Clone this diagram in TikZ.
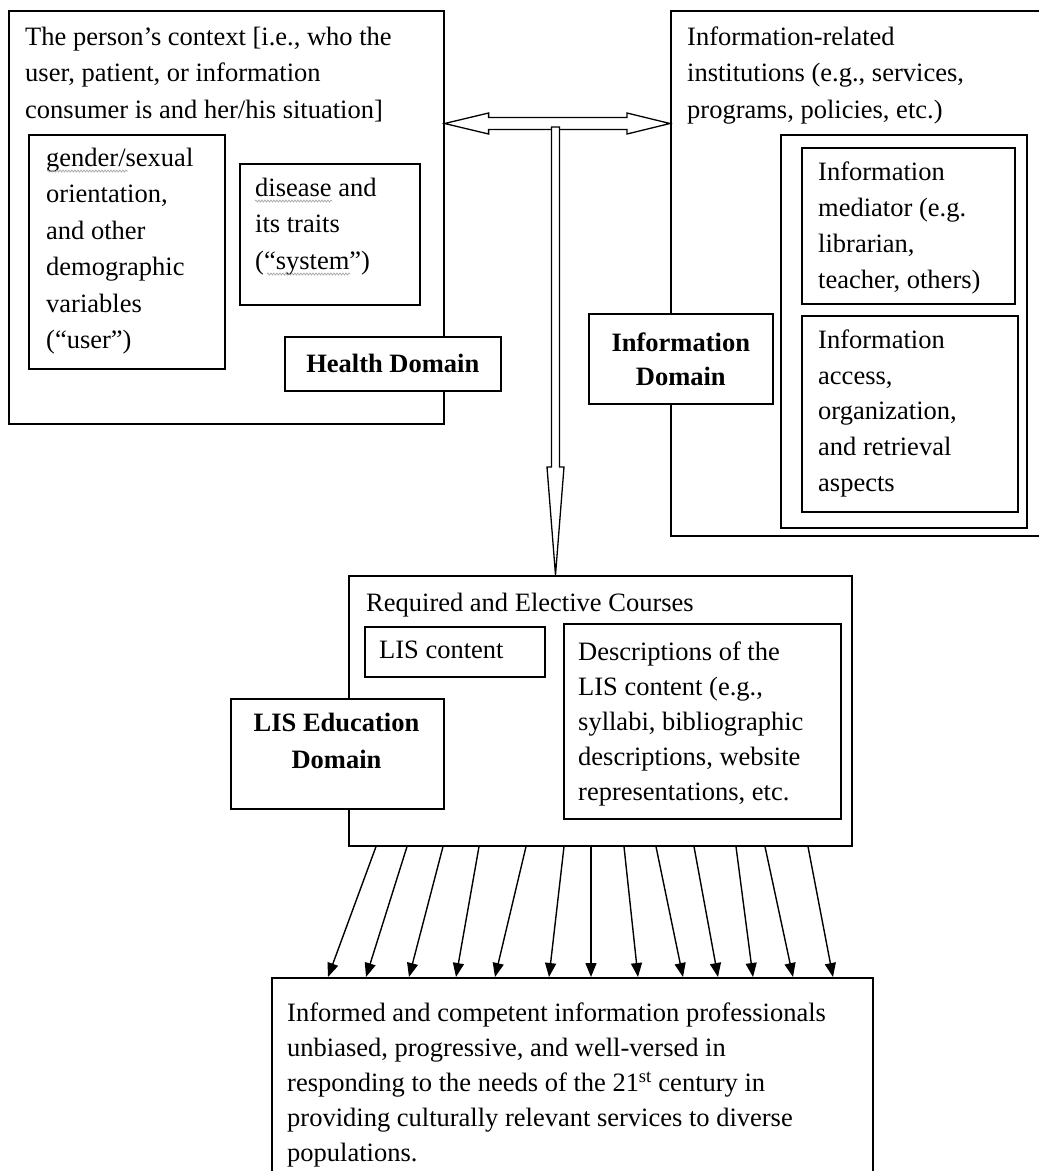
\documentclass[tikz,border=0pt]{standalone}
\usepackage{fontspec}
\setmainfont{Liberation Serif}
\usetikzlibrary{calc,arrows.meta,decorations.pathmorphing}
\newcommand{\mystrut}{\rule{0pt}{22pt}}
\begin{document}
\begin{tikzpicture}[x=1pt,y=-1pt,
  box/.style={draw, line width=1.6pt, fill=white, inner sep=0pt, anchor=north west},
  txt/.style={anchor=north west, inner sep=0pt, align=left, font={\fontsize{26.5}{36.5}\selectfont}},
  boldtxt/.style={align=center, font={\fontsize{26.5}{34}\selectfont\bfseries}},
  fan/.style={line width=1.4pt, -{Triangle[width=11pt,length=14pt]}},
  dbl/.style={line width=1.3pt, fill=white, line join=miter},
  squig/.style={gray!70, line width=0.7pt, decorate, decoration={snake, amplitude=1pt, segment length=3pt}}
]
\useasboundingbox (0,0) rectangle (1039,1171);
\clip (0,0) rectangle (1039,1171);
\fill[white] (0,0) rectangle (1039,1171);

% Health domain
\node[box, minimum width=435pt, minimum height=413pt] (health) at (8,10) {};
\node[txt] (htxt) at (25,23) {\mystrut The person’s context [i.e., who the\\ user, patient, or information\\ consumer is and her/his situation]};
\node[box, minimum width=196pt, minimum height=234pt] (gender) at (28,134) {};
\node[txt] (gtxt) at (46,144) {\mystrut gender/sexual\\ orientation,\\ and other\\ demographic\\ variables\\ (“user”)};
\node[box, minimum width=180pt, minimum height=141pt] (disease) at (239,163) {};
\node[txt] (dtxt) at (255,174) {\mystrut disease and\\ its traits\\ (“system”)};
\node[box, boldtxt, minimum width=216pt, minimum height=54pt] (hdom) at (284,336) {Health Domain};
\draw[squig] (47,171) -- (128,171);
\draw[squig] (255,201) -- (332,201);
\draw[squig] (267,274) -- (350,274);

% Information domain
\node[box, minimum width=420pt, minimum height=525pt] (info) at (670,10) {};
\node[txt] (itxt) at (687,23) {\mystrut Information-related\\ institutions (e.g., services,\\ programs, policies, etc.)};
\node[box, minimum width=246pt, minimum height=393pt] (frame) at (780,134) {};
\node[box, minimum width=213pt, minimum height=156pt] (mediator) at (801,147) {};
\node[txt, font={\fontsize{26.5}{36}\selectfont}] (mtxt) at (818,158) {\mystrut Information\\ mediator (e.g.\\ librarian,\\ teacher, others)};
\node[box, minimum width=216pt, minimum height=196pt] (access) at (801,315) {};
\node[txt, font={\fontsize{26.5}{35.8}\selectfont}] (atxt) at (818,326) {\mystrut Information\\ access,\\ organization,\\ and retrieval\\ aspects};
\node[box, boldtxt, minimum width=184pt, minimum height=90pt] (idom) at (588,313) {Information\\ Domain};

% double arrow between domains
\coordinate (dl) at ($(health.north east)+(0,113.5)$);
\coordinate (dr) at ($(info.north west)+(0,113.5)$);
\draw[dbl] (dl) -- ++(44,-10.5) -- ++(0,4.5) -- ($(dr)+(-43,-6)$) -- ++(0,-4.5) -- (dr)
  -- ++(-43,10.5) -- ++(0,-4.5) -- ($(dl)+(44,6)$) -- ++(0,4.5) -- cycle;

% LIS education domain
\node[box, minimum width=503pt, minimum height=270pt] (lis) at (348,575) {};
\node[txt] (ltxt) at (366,589) {\mystrut Required and Elective Courses};
\node[box, minimum width=180pt, minimum height=50pt] (liscontent) at (364,626) {};
\node[txt] (lctxt) at (379,636) {\mystrut LIS content};
\node[box, minimum width=277pt, minimum height=195pt] (desc) at (563,623) {};
\node[txt, font={\fontsize{26.5}{35}\selectfont}] (desctxt) at (578,638) {\mystrut Descriptions of the\\ LIS content (e.g.,\\ syllabi, bibliographic\\ descriptions, website\\ representations, etc.};
\node[box, minimum width=213pt, minimum height=110pt] (ledu) at (230,698) {};
\node[boldtxt, anchor=north, inner sep=0pt, font={\fontsize{26.5}{37}\selectfont\bfseries}] (ledutxt) at (336.5,709) {\mystrut LIS Education\\ Domain};

% vertical arrow
\coordinate (vtop) at (555.5,127);
\coordinate (vtip) at ($(lis.north west)+(207.5,0)$);
\draw[dbl] ($(vtop)+(-4,0)$) -- ($(vtip)+(-4,-108)$) -- ++(-4.5,0) -- (vtip)
  -- ($(vtip)+(8.5,-108)$) -- ++(-4.5,0) -- ($(vtop)+(4,0)$) -- cycle;

% outcome
\node[box, minimum width=601pt, minimum height=250pt] (out) at (271,977) {};
\node[txt, font={\fontsize{26.5}{35}\selectfont}] (otxt) at (287,999) {\mystrut Informed and competent information professionals\\ unbiased, progressive, and well-versed in\\ responding to the needs of the 21\textsuperscript{st} century in\\ providing culturally relevant services to diverse\\ populations.};

\foreach \a/\b in {376/328, 407/366, 443/409, 479/456, 526/495, 564/549, 591/591, 624/638, 656/683, 694/718, 736/753, 765/793, 808/833}
  \draw[fan] ($(lis.south west)+(\a-348,0)$) -- ($(out.north west)+(\b-271,0)$);
\end{tikzpicture}
\end{document}
